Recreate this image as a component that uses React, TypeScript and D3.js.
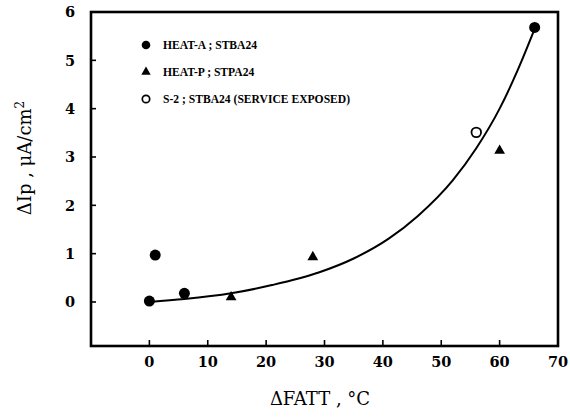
import React from 'react';
import * as d3 from 'd3';

// readings
const heatA = [[0, 0.02], [1, 0.97], [6, 0.18], [66, 5.68]];
const heatP = [[14, 0.1], [28, 0.93], [60, 3.13]];
const s2 = [[56, 3.51]];
const fitCurve = [
  [0, 0], [6, 0.06], [14, 0.18], [21, 0.35], [29, 0.61], [35, 0.9], [41, 1.31],
  [46, 1.78], [52, 2.52], [56, 3.18], [60, 4.0], [63, 4.77], [66, 5.65],
];
const xTicks = [0, 10, 20, 30, 40, 50, 60, 70];
const yTicks = [0, 1, 2, 3, 4, 5, 6];
const legendLabels = ['HEAT-A ; STBA24', 'HEAT-P ; STPA24', 'S-2 ; STBA24 (SERVICE EXPOSED)'];

const W = 570;
const H = 417;
const left = 91, right = 558, top = 12, bottom = 346;

const App = () => {
  const x = d3.scaleLinear().domain([-10, 70]).range([left, right]);
  const y = d3.scaleLinear().domain([0, 6]).range([302, top]);

  const line = d3.line<number[]>()
    .x(d => x(d[0]))
    .y(d => y(d[1]))
    .curve(d3.curveMonotoneX);

  const tri = d3.symbol().type(d3.symbolTriangle).size(50)();
  const triSmall = d3.symbol().type(d3.symbolTriangle).size(38)();

  const tickFont = { fontFamily: 'DejaVu Serif', fontWeight: 'bold', fontSize: 14.5 };

  return (
    <svg width={W} height={H} style={{ position: 'absolute', left: 0, top: 0, background: '#fff' }}>
      <rect x={left} y={top} width={right - left} height={bottom - top}
        fill="none" stroke="#000" strokeWidth={2.6} />

      {/* y ticks + labels */}
      {yTicks.map(t => (
        <g key={'y' + t}>
          {t < 6 && <line x1={left} x2={left + 5} y1={y(t)} y2={y(t)} stroke="#000" strokeWidth={1.6} />}
          <text x={75} y={y(t)} dy="0.36em" textAnchor="end" {...tickFont}>{t}</text>
        </g>
      ))}

      {/* x ticks + labels */}
      {xTicks.map(t => (
        <g key={'x' + t}>
          {t < 70 && <line x1={x(t)} x2={x(t)} y1={bottom} y2={bottom - 6} stroke="#000" strokeWidth={1.6} />}
          <text x={x(t)} y={367} textAnchor="middle" {...tickFont}>{t}</text>
        </g>
      ))}

      <text x={320} y={405} textAnchor="middle" fontFamily="DejaVu Serif" fontSize={18}>ΔFATT , °C</text>
      <text transform="translate(31,158) rotate(-90)" textAnchor="middle" fontFamily="DejaVu Serif" fontSize={18}>
        ΔIp , μA/cm<tspan dy={-7} fontSize={12}>2</tspan>
      </text>

      {/* fitted curve */}
      <path d={line(fitCurve) || ''} fill="none" stroke="#000" strokeWidth={2} />

      {heatA.map((d, i) => (
        <circle key={'a' + i} cx={x(d[0])} cy={y(d[1])} r={5.5} fill="#000" />
      ))}
      {heatP.map((d, i) => (
        <path key={'p' + i} d={tri || ''} transform={`translate(${x(d[0])},${y(d[1])})`} fill="#000" />
      ))}
      {s2.map((d, i) => (
        <circle key={'s' + i} cx={x(d[0])} cy={y(d[1])} r={4.8} fill="#fff" stroke="#000" strokeWidth={1.8} />
      ))}

      {/* legend */}
      <g fontFamily="Liberation Serif" fontWeight="bold" fontSize={11.6}>
        <circle cx={146} cy={45} r={4.3} fill="#000" />
        <path d={triSmall || ''} transform="translate(146,72)" fill="#000" />
        <circle cx={146} cy={99} r={3.7} fill="#fff" stroke="#000" strokeWidth={1.7} />
        {legendLabels.map((l, i) => (
          <text key={l} x={163} y={45 + i * 27} dy="0.35em">{l}</text>
        ))}
      </g>
    </svg>
  );
};

export default App;
